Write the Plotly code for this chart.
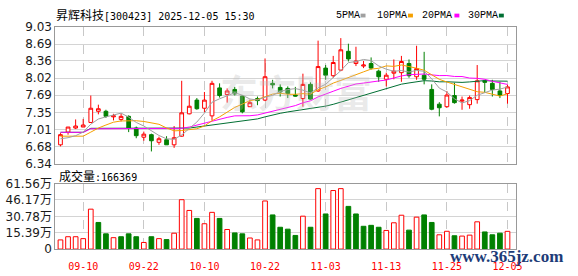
import plotly.graph_objects as go

# ---------------- data ----------------
dates = ["09-05", "09-08", "09-09", "09-10", "09-11", "09-12", "09-15", "09-16", "09-17", "09-18",
         "09-19", "09-22", "09-23", "09-24", "09-25", "09-26", "09-29", "09-30", "10-09", "10-10",
         "10-13", "10-14", "10-15", "10-16", "10-17", "10-20", "10-21", "10-22", "10-23", "10-24",
         "10-27", "10-28", "10-29", "10-30", "10-31", "11-03", "11-04", "11-05", "11-06", "11-07",
         "11-10", "11-11", "11-12", "11-13", "11-14", "11-17", "11-18", "11-19", "11-20", "11-21",
         "11-24", "11-25", "11-26", "11-27", "11-28", "12-01", "12-02", "12-03", "12-04", "12-05"]

opens = [6.71, 6.96, 7.04, 7.06, 7.15, 7.37, 7.37, 7.26, 7.21, 7.27,
         7.04, 6.86, 6.91, 6.76, 6.81, 6.71, 6.88, 7.32, 7.59, 7.43,
         7.28, 7.83, 7.70, 7.80, 7.67, 7.46, 7.62, 7.59, 7.92, 7.84,
         7.82, 7.69, 7.62, 7.90, 7.77, 8.22, 8.07, 8.18, 8.55, 8.31,
         8.26, 8.31, 8.16, 8.00, 8.12, 8.13, 8.31, 8.05, 8.08, 7.80,
         7.51, 7.46, 7.68, 7.57, 7.50, 7.60, 7.97, 7.92, 7.77, 7.72]
highs = [6.94, 7.06, 7.21, 7.22, 7.68, 7.50, 7.40, 7.32, 7.33, 7.29,
         7.07, 6.97, 6.93, 6.87, 6.88, 7.08, 7.97, 7.68, 7.63, 7.75,
         7.97, 7.92, 7.82, 7.85, 7.69, 7.60, 7.66, 8.41, 7.99, 7.90,
         7.86, 7.85, 8.11, 7.94, 8.76, 8.28, 8.46, 8.81, 8.70, 8.64,
         8.36, 8.43, 8.19, 8.13, 8.39, 8.46, 8.39, 8.66, 8.54, 7.90,
         7.55, 7.77, 7.93, 7.66, 7.68, 8.28, 7.99, 7.99, 7.95, 7.89]
lows = [6.68, 6.91, 7.02, 7.06, 7.14, 7.31, 7.24, 7.19, 7.17, 6.96,
        6.84, 6.79, 6.58, 6.71, 6.71, 6.65, 6.87, 7.31, 7.40, 7.35,
        7.19, 7.64, 7.54, 7.68, 7.33, 7.46, 7.49, 7.57, 7.82, 7.66,
        7.63, 7.66, 7.46, 7.60, 7.75, 7.99, 8.03, 8.16, 8.35, 8.26,
        8.22, 8.19, 7.95, 7.86, 8.00, 7.95, 8.03, 7.99, 7.90, 7.39,
        7.27, 7.44, 7.52, 7.40, 7.42, 7.52, 7.74, 7.66, 7.63, 7.52]
closes = [6.91, 7.06, 7.08, 7.10, 7.43, 7.42, 7.27, 7.28, 7.27, 7.04,
          6.89, 6.92, 6.79, 6.83, 6.71, 6.85, 7.34, 7.47, 7.42, 7.59,
          7.92, 7.68, 7.77, 7.71, 7.36, 7.54, 7.58, 8.05, 7.89, 7.75,
          7.72, 7.67, 7.90, 7.61, 8.25, 8.08, 8.33, 8.58, 8.40, 8.36,
          8.28, 8.22, 8.05, 8.08, 8.16, 8.35, 8.07, 8.21, 8.00, 7.41,
          7.44, 7.69, 7.54, 7.59, 7.64, 7.97, 7.94, 7.80, 7.68, 7.85]
# volume in 万手
volumes = [8.6, 11.6, 11.6, 9.8, 37.5, 25.0, 14.3, 10.7, 11.6, 14.3,
           11.6, 6.2, 11.6, 9.8, 8.9, 14.9, 46.4, 36.3, 28.8, 23.8,
           34.5, 28.8, 18.4, 15.2, 14.3, 10.4, 8.6, 45.2, 32.1, 20.5,
           18.7, 12.8, 30.9, 20.5, 56.8, 33.0, 55.0, 56.8, 40.1, 33.0,
           21.4, 22.3, 20.5, 17.5, 24.7, 31.8, 17.8, 30.0, 32.1, 25.0,
           13.4, 16.7, 12.5, 12.2, 13.1, 25.6, 16.1, 13.4, 14.9, 16.64]

# moving-average values visible before each window is complete
ma5_head = [6.83, 6.85, 6.89, 6.96]
ma10_head = [6.88, 6.88, 6.88, 6.88, 6.96, 7.04, 7.10, 7.155, 7.18]
ma20_head = [6.956, 6.956, 6.956, 6.956, 7.025, 7.025, 7.025, 7.025, 7.025, 7.025,
             7.025, 7.025, 7.025, 7.025, 7.025, 7.025, 7.035, 7.06, 7.10]
ma30_head = [6.956, 6.956, 6.956, 6.956, 7.035, 7.035, 7.035, 7.035, 7.035, 7.035,
             7.035, 7.035, 7.035, 7.035, 7.035, 7.035, 7.035, 7.04, 7.06, 7.08,
             7.10, 7.12, 7.14, 7.15, 7.17, 7.20, 7.22, 7.26, 7.30]

price_ticks = ["6.34", "6.68", "7.01", "7.35", "7.69", "8.02", "8.36", "8.69", "9.03"]
vol_ticks = [0, 15.39, 30.78, 46.17, 61.56]
date_ticks = ["09-10", "09-22", "10-10", "10-22", "11-03", "11-13", "11-25", "12-05"]
last_volume = "166369"

# ---------------- derived ----------------
def moving_avg(head, n):
    out = list(head)
    for i in range(len(head), len(closes)):
        out.append(sum(closes[i - n + 1:i + 1]) / n)
    return out

ma5 = moving_avg(ma5_head, 5)
ma10 = moving_avg(ma10_head, 10)
ma20 = moving_avg(ma20_head, 20)
ma30 = moving_avg(ma30_head, 30)

RED = "#ff0000"
GREEN = "#008000"
vol_up = [closes[0] >= opens[0]] + [closes[i] >= closes[i - 1] for i in range(1, len(closes))]
vol_fill = ["#ffffff" if u else GREEN for u in vol_up]
vol_line = [RED if u else GREEN for u in vol_up]

W, H = 578, 276
def px(x):
    return x / W
def py(y):
    return 1 - y / H

MA_COLORS = ["#a0a0a0", "#f5a000", "#ff00ff", "#006f33"]

fig = go.Figure()
fig.add_trace(go.Candlestick(
    x=dates, open=opens, high=highs, low=lows, close=closes,
    increasing=dict(line=dict(color=RED, width=1), fillcolor="#ffffff"),
    decreasing=dict(line=dict(color=GREEN, width=1), fillcolor=GREEN),
    whiskerwidth=0, xaxis="x", yaxis="y", showlegend=False, hoverinfo="skip"))
for vals, col in zip([ma30, ma20, ma10, ma5], MA_COLORS[::-1]):
    fig.add_trace(go.Scatter(x=dates, y=vals, mode="lines", line=dict(color=col, width=1),
                             xaxis="x", yaxis="y", showlegend=False, hoverinfo="skip"))
fig.add_trace(go.Bar(x=dates, y=volumes, width=0.62,
                     marker=dict(color=vol_fill, line=dict(color=vol_line, width=1)),
                     xaxis="x2", yaxis="y2", showlegend=False, hoverinfo="skip"))

xr = [-0.68, 60.08]
common_x = dict(domain=[px(56), px(522)], range=xr, type="category",
                tickvals=date_ticks, showgrid=True, gridcolor="#c8c8c8", griddash="dash",
                gridwidth=1, showline=True, mirror=True, linecolor="#999999", linewidth=1,
                ticks="", zeroline=False)
fig.update_layout(
    width=W, height=H, margin=dict(l=0, r=0, t=0, b=0), autosize=False,
    paper_bgcolor="#ffffff", plot_bgcolor="#ffffff",
    boxgap=0.3,
    xaxis=dict(common_x, anchor="y", showticklabels=False, rangeslider=dict(visible=False)),
    xaxis2=dict(common_x, anchor="y2", matches="x", showticklabels=True, ticklabelstandoff=8,
                tickfont=dict(family="DejaVu Sans Mono", size=10, color=RED)),
    yaxis=dict(domain=[py(165), py(21)], range=[6.34, 9.03],
               tickvals=[float(t) for t in price_ticks], ticktext=price_ticks,
               showgrid=True, gridcolor="#d4d4d4", showline=True, mirror=True,
               linecolor="#999999", linewidth=1, ticks="", zeroline=False,
               tickfont=dict(family="DejaVu Sans", size=12, color="#1a1a1a")),
    yaxis2=dict(domain=[py(255), py(186)], range=[0, 61.56],
                tickvals=vol_ticks,
                ticktext=["0"] + ["%.2f万" % v for v in vol_ticks[1:]],
                showgrid=True, gridcolor="#d4d4d4", showline=True, mirror=True,
                linecolor="#999999", linewidth=1, ticks="", zeroline=False,
                tickfont=dict(family="DejaVu Sans, Noto Sans CJK SC", size=12, color="#1a1a1a")),
)

CJK = "font-family:Noto Sans CJK SC;font-size:12px"
annotations = [
    dict(x=px(55), y=py(7.5), xref="paper", yref="paper", xanchor="left", yanchor="middle",
         text=f'<span style="{CJK}">昇辉科技</span>[300423] 2025-12-05 15:30',
         showarrow=False, font=dict(family="DejaVu Sans Mono", size=10, color="#000000")),
    dict(x=px(58), y=py(177), xref="paper", yref="paper", xanchor="left", yanchor="middle",
         text=f'<span style="{CJK}">成交量</span>:{last_volume}',
         showarrow=False, font=dict(family="DejaVu Sans Mono", size=10, color="#000000")),
    dict(x=px(300), y=py(88), xref="paper", yref="paper", xanchor="center", yanchor="middle",
         text="<b>东方财富</b>", showarrow=False,
         font=dict(family="Noto Sans CJK SC", size=38, color="rgba(190,190,190,0.33)")),
    dict(x=px(513), y=py(263), xref="paper", yref="paper", xanchor="center", yanchor="middle",
         text="<b>www.365jz.com</b>", showarrow=False,
         font=dict(family="Liberation Serif", size=17, color="#1d3c78")),
]
legend_items = [("5PMA", 338, 365), ("10PMA", 380, 413), ("20PMA", 425, 460), ("30PMA", 472, 505)]
shapes = []
for (lbl, tx, sx), col in zip(legend_items, MA_COLORS):
    annotations.append(dict(x=px(tx), y=py(8.5), xref="paper", yref="paper", xanchor="left",
                            yanchor="middle", text=lbl, showarrow=False,
                            font=dict(family="Liberation Mono", size=10, color="#000000")))
    shapes.append(dict(type="rect", xref="paper", yref="paper", x0=px(sx), x1=px(sx + 5),
                       y0=py(11), y1=py(7), fillcolor=col, line=dict(width=0)))
fig.update_layout(annotations=annotations, shapes=shapes)

fig.write_html("out.html")
